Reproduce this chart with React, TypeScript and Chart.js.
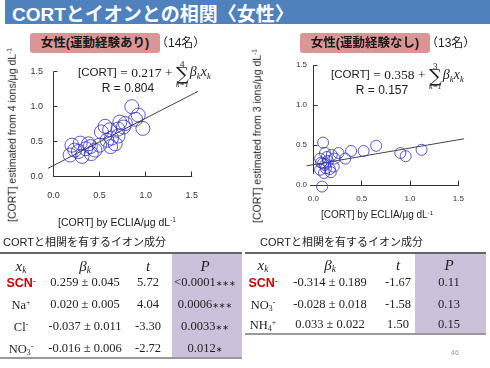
import React, { useEffect, useRef } from 'react';
import { Chart, registerables } from 'chart.js';

Chart.register(...registerables);

const SANS = '"Liberation Sans", "Noto Sans CJK JP", sans-serif';
const SERIF = '"Liberation Serif", "Noto Sans CJK JP", serif';

// ---------- data ----------
const TITLE = 'CORTとイオンとの相関〈女性〉';
const tickValues = [0, 0.5, 1.0, 1.5];

// 女性(運動経験あり)
const activeX = [0.20, 0.18, 0.23, 0.29, 0.31, 0.27, 0.35, 0.40, 0.41, 0.38, 0.45, 0.50, 0.52, 0.56, 0.58, 0.61, 0.63, 0.62, 0.67, 0.70, 0.72, 0.76, 0.78, 0.70, 0.85, 0.89, 0.92, 0.97];
const activeY = [0.45, 0.31, 0.38, 0.48, 0.29, 0.36, 0.40, 0.43, 0.33, 0.47, 0.38, 0.45, 0.64, 0.72, 0.52, 0.67, 0.55, 0.43, 0.47, 0.68, 0.78, 0.71, 0.76, 0.58, 1.00, 0.82, 0.88, 0.69];
const activeFitX = [-0.06, 1.57];
const activeFitY = [0.12, 1.22];

// 女性(運動経験なし)
const inactiveX = [0.10, 0.12, 0.07, 0.19, 0.26, 0.33, 0.39, 0.52, 0.65, 0.90, 0.955, 1.12, 0.07, 0.12, 0.21, 0.15, 0.10, 0.17, 0.22, 0.14, 0.09, 0.18, 0.08, 0.13, 0.11];
const inactiveY = [0.53, 0.40, 0.33, 0.375, 0.40, 0.33, 0.425, 0.425, 0.49, 0.40, 0.36, 0.44, 0.19, 0.25, 0.23, 0.30, 0.27, 0.20, 0.33, 0.35, -0.02, 0.16, 0.28, 0.21, 0.15];
const inactiveFitX = [-0.07, 1.56];
const inactiveFitY = [0.24, 0.578];

// tables
const leftIonBase = ['SCN', 'Na', 'Cl', 'NO'];
const leftIonSub = ['', '', '', '3'];
const leftIonSup = ['-', '+', '-', '-'];
const leftBeta = ['0.259 ± 0.045', '0.020 ± 0.005', '-0.037 ± 0.011', '-0.016 ± 0.006'];
const leftT = ['5.72', '4.04', '-3.30', '-2.72'];
const leftP = ['<0.0001', '0.0006', '0.0033', '0.012'];
const leftStars = ['∗∗∗', '∗∗∗', '∗∗', '∗'];

const rightIonBase = ['SCN', 'NO', 'NH'];
const rightIonSub = ['', '3', '4'];
const rightIonSup = ['-', '-', '+'];
const rightBeta = ['-0.314 ± 0.189', '-0.028 ± 0.018', '0.033 ± 0.022'];
const rightT = ['-1.67', '-1.58', '1.50'];
const rightP = ['0.11', '0.13', '0.15'];

// ---------- helpers ----------
const Txt = ({ x, y, a = 'c', s, children }: any) => (
  <div
    style={{
      position: 'absolute',
      left: x,
      top: y,
      transform: `translate(${a === 'c' ? '-50%' : a === 'r' ? '-100%' : '0'}, -50%)`,
      whiteSpace: 'nowrap',
      lineHeight: 1,
      ...s,
    }}
  >
    {children}
  </div>
);

const Sup = ({ c }: any) => (
  <span style={{ fontSize: '0.62em', verticalAlign: '0.55em', lineHeight: 0 }}>{c}</span>
);
const Sub = ({ c }: any) => (
  <span style={{ fontSize: '0.62em', verticalAlign: '-0.3em', lineHeight: 0 }}>{c}</span>
);

type PanelProps = {
  xs: number[];
  ys: number[];
  fitX: number[];
  fitY: number[];
  left: number;
  w: number;
  h: number;
  area: { left: number; top: number; right: number; bottom: number };
  radius: number;
  tickFont: number;
  xPad: number;
  yPad: number;
  yLineMin: number;
  xLineMin: number;
};

function ScatterPanel(p: PanelProps) {
  const ref = useRef<HTMLCanvasElement>(null);
  useEffect(() => {
    if (!ref.current) return;
    const axes = {
      id: 'kgAxes',
      beforeDatasetsDraw(chart: any) {
        const { ctx, scales } = chart;
        const sx = scales.x;
        const sy = scales.y;
        const crisp = (v: number) => Math.round(v - 0.5) + 0.5;
        const ax = crisp(sx.getPixelForValue(0));
        const ay = crisp(sy.getPixelForValue(0));
        ctx.save();
        ctx.strokeStyle = '#333';
        ctx.lineWidth = 1;
        ctx.beginPath();
        ctx.moveTo(ax, sy.getPixelForValue(sy.max));
        ctx.lineTo(ax, sy.getPixelForValue(p.yLineMin));
        ctx.moveTo(sx.getPixelForValue(p.xLineMin), ay);
        ctx.lineTo(sx.getPixelForValue(sx.max) + 0.5, ay);
        sy.ticks.forEach((t: any) => {
          if (t.value > 0) {
            const py = crisp(sy.getPixelForValue(t.value));
            ctx.moveTo(ax, py);
            ctx.lineTo(ax + 4, py);
          }
        });
        sx.ticks.forEach((t: any) => {
          if (t.value > 0) {
            const px = crisp(sx.getPixelForValue(t.value));
            ctx.moveTo(px, ay);
            ctx.lineTo(px, ay - 5);
          }
        });
        ctx.stroke();
        ctx.restore();
      },
    };
    const tickCommon = {
      stepSize: 0.5,
      autoSkip: false,
      maxRotation: 0,
      color: '#333',
      font: { family: SANS, size: p.tickFont },
      callback: (v: any) => Number(v).toFixed(1),
    };
    const chart = new Chart(ref.current, {
      type: 'scatter',
      data: {
        datasets: [
          {
            data: p.xs.map((v, i) => ({ x: v, y: p.ys[i] })),
            pointRadius: p.radius,
            pointHoverRadius: p.radius,
            borderColor: 'rgba(50,50,190,0.8)',
            backgroundColor: 'rgba(0,0,0,0)',
            borderWidth: 1,
            clip: false,
          } as any,
          {
            data: p.fitX.map((v, i) => ({ x: v, y: p.fitY[i] })),
            showLine: true,
            pointRadius: 0,
            borderColor: '#444',
            borderWidth: 1,
            clip: false,
          } as any,
        ],
      },
      options: {
        responsive: false,
        animation: false,
        events: [],
        layout: { padding: { left: 0, top: p.area.top, right: p.w - p.area.right, bottom: 0 } },
        plugins: { legend: { display: false }, tooltip: { enabled: false } },
        scales: {
          x: {
            type: 'linear',
            min: tickValues[0],
            max: tickValues[tickValues.length - 1],
            ticks: { ...tickCommon, padding: p.xPad },
            grid: { display: false, drawTicks: false },
            border: { display: false },
            afterFit: (s: any) => {
              s.height = p.h - p.area.bottom;
            },
          },
          y: {
            type: 'linear',
            min: tickValues[0],
            max: tickValues[tickValues.length - 1],
            ticks: { ...tickCommon, padding: p.yPad },
            grid: { display: false, drawTicks: false },
            border: { display: false },
            afterFit: (s: any) => {
              s.width = p.area.left;
            },
          },
        },
      } as any,
      plugins: [axes],
    });
    return () => chart.destroy();
  }, []);
  return (
    <canvas
      ref={ref}
      width={p.w}
      height={p.h}
      style={{ position: 'absolute', left: p.left, top: 0, width: p.w, height: p.h }}
    />
  );
}

function Equation({ x, y, c, n }: any) {
  return (
    <div
      style={{
        position: 'absolute',
        left: x,
        top: y,
        transform: 'translateY(-50%)',
        display: 'flex',
        alignItems: 'center',
        whiteSpace: 'nowrap',
        color: '#222',
        lineHeight: 1,
      }}
    >
      <span style={{ fontFamily: SANS, fontSize: 11.5 }}>[CORT]</span>
      <span style={{ fontFamily: SERIF, fontSize: 13.5 }}>&nbsp;= {c} +&nbsp;</span>
      <span
        style={{
          display: 'inline-flex',
          flexDirection: 'column',
          alignItems: 'center',
          fontFamily: SERIF,
          lineHeight: 0.9,
          marginTop: 3,
        }}
      >
        <span style={{ fontSize: 9 }}>{n}</span>
        <span style={{ fontSize: 18, fontFamily: '"DejaVu Serif", serif', lineHeight: 0.72 }}>∑</span>
        <span style={{ fontSize: 8, fontStyle: 'italic' }}>k=1</span>
      </span>
      <span style={{ fontFamily: SERIF, fontStyle: 'italic', fontSize: 14, marginLeft: 1 }}>
        β<Sub c="k" />x<Sub c="k" />
      </span>
    </div>
  );
}

function Ion({ base, sub, sup }: any) {
  if (base === 'SCN') {
    return (
      <span style={{ fontFamily: SANS, fontWeight: 700, color: '#C80000', fontSize: 12.5 }}>
        SCN<Sup c={sup} />
      </span>
    );
  }
  return (
    <span style={{ fontFamily: SERIF, fontSize: 12.5 }}>
      {base}
      {sub ? <Sub c={sub} /> : null}
      <Sup c={sup} />
    </span>
  );
}

function Header({ cols, y }: any) {
  const st = { fontFamily: SERIF, fontStyle: 'italic', fontSize: 15 };
  return (
    <>
      <Txt x={cols[0]} y={y} s={st}>
        x<Sub c="k" />
      </Txt>
      <Txt x={cols[1]} y={y} s={st}>
        β<Sub c="k" />
      </Txt>
      <Txt x={cols[2]} y={y} s={st}>
        t
      </Txt>
      <Txt x={cols[3]} y={y} s={st}>
        P
      </Txt>
    </>
  );
}

export default function App() {
  const cell = { fontFamily: SERIF, fontSize: 12.5, color: '#222' };
  const leftCols = [21, 85, 148, 205];
  const leftRowsY = [282, 304, 326, 348];
  const rightCols = [263, 330, 398, 449];
  const rightRowsY = [282, 304, 324];
  const purple = '#CCC1DA';
  const pink = '#D99694';
  return (
    <div
      style={{
        position: 'absolute',
        left: 0,
        top: 0,
        width: 490,
        height: 368,
        background: '#fff',
        overflow: 'hidden',
        fontFamily: SANS,
        color: '#222',
      }}
    >
      {/* title bar */}
      <div style={{ position: 'absolute', left: 5, top: 0, width: 485, height: 24, background: '#4F81BD' }} />
      <Txt x={12} y={13.5} a="l" s={{ color: '#fff', fontWeight: 700, fontSize: 19 }}>
        {TITLE}
      </Txt>

      {/* charts */}
      <ScatterPanel
        xs={activeX}
        ys={activeY}
        fitX={activeFitX}
        fitY={activeFitY}
        left={0}
        w={245}
        h={240}
        area={{ left: 53.5, top: 71.7, right: 191.7, bottom: 176.7 }}
        radius={7}
        tickFont={9}
        xPad={13}
        yPad={10.5}
        yLineMin={0}
        xLineMin={0}
      />
      <ScatterPanel
        xs={inactiveX}
        ys={inactiveY}
        fitX={inactiveFitX}
        fitY={inactiveFitY}
        left={245}
        w={245}
        h={240}
        area={{ left: 68.4, top: 65, right: 213.3, bottom: 185 }}
        radius={5.5}
        tickFont={8}
        xPad={8.5}
        yPad={6.4}
        yLineMin={0.14}
        xLineMin={-0.035}
      />

      {/* group labels */}
      <div style={{ position: 'absolute', left: 30, top: 33, width: 130, height: 20, background: pink, borderRadius: 3 }} />
      <Txt x={95} y={43} s={{ fontWeight: 700, fontSize: 12.5, color: '#1a1a1a' }}>
        女性(運動経験あり)
      </Txt>
      <Txt x={156} y={43} a="l" s={{ fontSize: 12, color: '#222' }}>
        （14名）
      </Txt>
      <div style={{ position: 'absolute', left: 300, top: 33, width: 130, height: 20, background: pink, borderRadius: 3 }} />
      <Txt x={365} y={43} s={{ fontWeight: 700, fontSize: 12.5, color: '#1a1a1a' }}>
        女性(運動経験なし)
      </Txt>
      <Txt x={426} y={43} a="l" s={{ fontSize: 12, color: '#222' }}>
        （13名）
      </Txt>

      {/* equations */}
      <Equation x={78} y={72.7} c="0.217" n="4" />
      <Txt x={128} y={87.5} s={{ fontSize: 12 }}>
        R = 0.804
      </Txt>
      <Equation x={331} y={75} c="0.358" n="3" />
      <Txt x={382} y={89.5} s={{ fontSize: 12 }}>
        R = 0.157
      </Txt>

      {/* axis titles */}
      <div
        style={{
          position: 'absolute',
          left: 12,
          top: 134.5,
          transform: 'translate(-50%, -50%) rotate(-90deg)',
          whiteSpace: 'nowrap',
          fontSize: 10.5,
          lineHeight: 1,
        }}
      >
        [CORT] estimated from 4 ions/μg dL<Sup c="-1" />
      </div>
      <div
        style={{
          position: 'absolute',
          left: 257,
          top: 136,
          transform: 'translate(-50%, -50%) rotate(-90deg)',
          whiteSpace: 'nowrap',
          fontSize: 10.5,
          lineHeight: 1,
        }}
      >
        [CORT] estimated from 3 ions/μg dL<Sup c="-1" />
      </div>
      <Txt x={117} y={222} s={{ fontSize: 10.5 }}>
        [CORT] by ECLIA/μg dL<Sup c="-1" />
      </Txt>
      <Txt x={377} y={215} s={{ fontSize: 10 }}>
        [CORT] by ECLIA/μg dL<Sup c="-1" />
      </Txt>

      {/* left table */}
      <Txt x={3} y={242} a="l" s={{ fontSize: 11 }}>
        CORTと相関を有するイオン成分
      </Txt>
      <div style={{ position: 'absolute', left: 172, top: 253, width: 70, height: 105, background: purple }} />
      <div style={{ position: 'absolute', left: 0, top: 252, width: 242, height: 2, background: '#666' }} />
      <div style={{ position: 'absolute', left: 0, top: 357, width: 242, height: 2, background: '#999' }} />
      <Header cols={leftCols} y={266} />
      {leftIonBase.map((b, i) => (
        <React.Fragment key={'l' + i}>
          <Txt x={leftCols[0]} y={leftRowsY[i]}>
            <Ion base={b} sub={leftIonSub[i]} sup={leftIonSup[i]} />
          </Txt>
          <Txt x={leftCols[1]} y={leftRowsY[i]} s={cell}>
            {leftBeta[i]}
          </Txt>
          <Txt x={leftCols[2]} y={leftRowsY[i]} s={cell}>
            {leftT[i]}
          </Txt>
          <Txt x={leftCols[3]} y={leftRowsY[i]} s={cell}>
            {leftP[i]}
            <span style={{ fontFamily: '"DejaVu Sans", sans-serif', fontSize: 8 }}>{leftStars[i]}</span>
          </Txt>
        </React.Fragment>
      ))}

      {/* right table */}
      <Txt x={260} y={242} a="l" s={{ fontSize: 11 }}>
        CORTと相関を有するイオン成分
      </Txt>
      <div style={{ position: 'absolute', left: 415, top: 253, width: 71, height: 80, background: purple }} />
      <div style={{ position: 'absolute', left: 245, top: 252, width: 241, height: 2, background: '#666' }} />
      <div style={{ position: 'absolute', left: 245, top: 332.5, width: 241, height: 2, background: '#999' }} />
      <Header cols={rightCols} y={265} />
      {rightIonBase.map((b, i) => (
        <React.Fragment key={'r' + i}>
          <Txt x={rightCols[0]} y={rightRowsY[i]}>
            <Ion base={b} sub={rightIonSub[i]} sup={rightIonSup[i]} />
          </Txt>
          <Txt x={rightCols[1]} y={rightRowsY[i]} s={cell}>
            {rightBeta[i]}
          </Txt>
          <Txt x={rightCols[2]} y={rightRowsY[i]} s={cell}>
            {rightT[i]}
          </Txt>
          <Txt x={rightCols[3]} y={rightRowsY[i]} s={cell}>
            {rightP[i]}
          </Txt>
        </React.Fragment>
      ))}

      <Txt x={455} y={352} s={{ fontSize: 7, color: '#999' }}>
        46
      </Txt>
    </div>
  );
}
